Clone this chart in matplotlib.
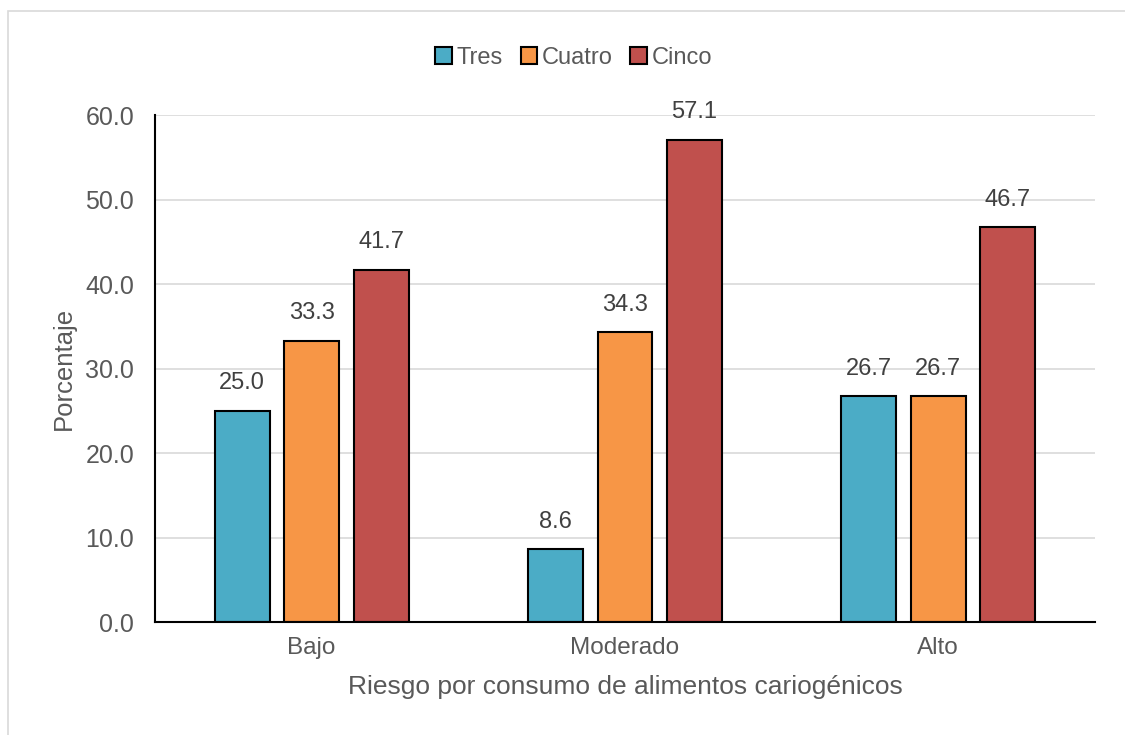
import numpy as np
import matplotlib.pyplot as plt
from matplotlib.patches import Rectangle

plt.rcParams['font.family'] = ['Liberation Sans', 'DejaVu Sans']

categories = ["Bajo", "Moderado", "Alto"]
series = ["Tres", "Cuatro", "Cinco"]
tres = [25.0, 8.6, 26.7]
cuatro = [33.3, 34.3, 26.7]
cinco = [41.7, 57.1, 46.7]
colors = ["#4BACC6", "#F79646", "#C0504D"]
yticks = [0, 10, 20, 30, 40, 50, 60]

txt = "#595959"
fig = plt.figure(figsize=(11.25, 7.35), dpi=100)
ax = fig.add_axes([0.1378, 0.1537, 0.9733 - 0.1378, 0.8435 - 0.1537])

# chart border
fig.patches.append(Rectangle((8 / 1125, -0.01), 1.1, 1 - 11 / 735 + 0.01,
                             transform=fig.transFigure, fill=False,
                             edgecolor="#D9D9D9", linewidth=1.2))

x = np.arange(len(categories))
w = 0.175
step = 0.222
for i, (name, vals) in enumerate(zip(series, [tres, cuatro, cinco])):
    pos = x + (i - 1) * step
    bars = ax.bar(pos, vals, width=w, color=colors[i], edgecolor="black",
                  linewidth=1.5, label=name, zorder=3)
    for b, v in zip(bars, vals):
        ax.annotate(f"{v:.1f}", (b.get_x() + b.get_width() / 2, v),
                    xytext=(0, 12), textcoords="offset points",
                    ha="center", va="bottom", fontsize=17, color="#404040")

ax.set_xlim(-0.5, 2.5)
ax.set_ylim(0, 60)
ax.set_yticks(yticks)
ax.set_yticklabels([f"{t:.1f}" for t in yticks])
ax.set_xticks(x)
ax.set_xticklabels(categories)
ax.tick_params(axis="both", length=0, colors=txt)
ax.tick_params(axis="y", pad=15, labelsize=18)
ax.tick_params(axis="x", pad=11, labelsize=17.5)
ax.grid(axis="y", color="#D9D9D9", linewidth=1.2, zorder=0)
for s in ["top", "right"]:
    ax.spines[s].set_visible(False)
for s in ["left", "bottom"]:
    ax.spines[s].set_color("black")
    ax.spines[s].set_linewidth(1.5)
ax.spines["left"].set_zorder(4)
ax.spines["bottom"].set_zorder(4)

ax.set_xlabel("Riesgo por consumo de alimentos cariogénicos", fontsize=19,
              color=txt, labelpad=11)
ax.set_ylabel("Porcentaje", fontsize=18.5, color=txt, labelpad=7)

handles, labels = ax.get_legend_handles_labels()
fig.legend(handles, labels, loc="center", bbox_to_anchor=(0.51, 1 - 58 / 735),
           ncol=3, frameon=False, fontsize=17, handlelength=0.7,
           handleheight=0.7, handletextpad=0.2, columnspacing=0.75,
           labelcolor=txt)

fig.savefig("out.png", dpi=100)
